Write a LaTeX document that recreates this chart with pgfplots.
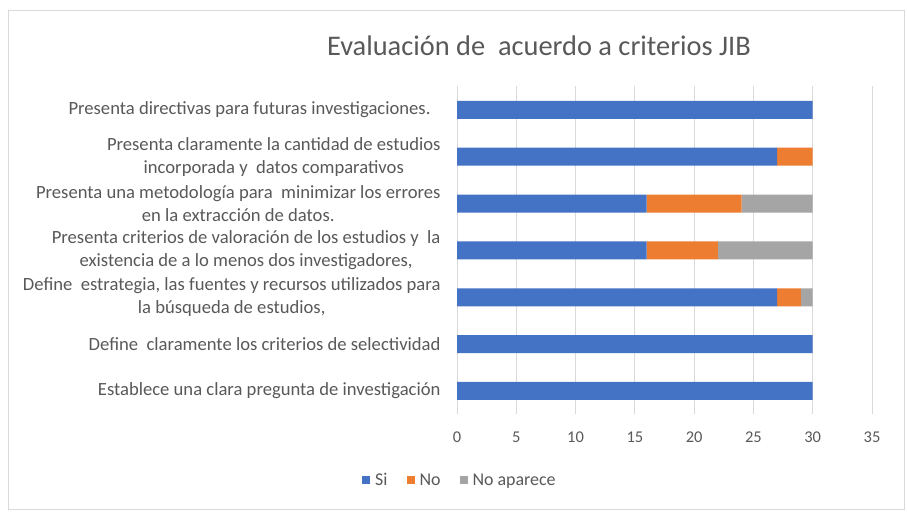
\documentclass[border=0pt]{standalone}
\usepackage{fontspec}
\setmainfont{Carlito}
\usepackage{pgfplots}
\usepackage{pgfplotstable}
\pgfplotsset{compat=1.18}
\definecolor{cSi}{HTML}{4472C4}
\definecolor{cNo}{HTML}{ED7D31}
\definecolor{cNA}{HTML}{A5A5A5}
\definecolor{txt}{HTML}{595959}
\definecolor{grd}{HTML}{D9D9D9}
\pgfplotstableread{
cat Si No NA
0 30 0 0
1 30 0 0
2 27 2 1
3 16 6 8
4 16 8 6
5 27 3 0
6 30 0 0
}\datatab
\begin{document}
\begin{tikzpicture}
\path[use as bounding box] (0bp,0bp) rectangle (907bp,513bp);
\fill[white] (0bp,0bp) rectangle (907bp,513bp);
\draw[grd, line width=1bp] (8.5bp,3bp) rectangle (904.5bp,502bp);
\node[text=txt, font=\fontsize{28.5}{33}\selectfont] at (539bp,467bp) {Evaluación de\ \ acuerdo a criterios JIB};
\begin{axis}[
  at={(457bp,98.6bp)}, anchor=south west,
  scale only axis, width=415bp, height=328bp,
  xbar stacked, bar width=18bp,
  xmin=0, xmax=35, ymin=-0.5, ymax=6.5,
  xtick={0,5,...,35},
  ytick={0,1,...,6},
  yticklabels={
    {Establece una clara pregunta de investigación},
    {Define\ \ claramente los criterios de selectividad},
    {Define\ \ estrategia, las fuentes y recursos utilizados para\\la búsqueda de estudios,},
    {Presenta criterios de valoración de los estudios y\ \ la\\existencia de a lo menos dos investigadores,},
    {Presenta una metodología para\ \ minimizar los errores\\en la extracción de datos.},
    {Presenta claramente la cantidad de estudios\\incorporada y\ \ datos comparativos},
    {Presenta directivas para futuras investigaciones.\hspace{10bp}}
  },
  yticklabel style={align=center, anchor=east, xshift=-13bp, text=txt, font=\fontsize{18.7}{23}\selectfont},
  xticklabel style={text=txt, font=\fontsize{16.5}{19}\selectfont, yshift=-14bp},
  /pgf/number format/assume math mode=true,
  xmajorgrids, major grid style={grd, line width=1bp},
  axis line style={draw=none},
  major tick style={draw=none},
  legend columns=-1,
  legend style={at={(0.007,-0.2)}, anchor=center, draw=none, fill=none,
    font=\fontsize{18}{21}\selectfont, text=txt,
    /tikz/every odd column/.append style={column sep=3bp},
    /tikz/every even column/.append style={column sep=17bp}},
  legend image code/.code={\fill[#1] (0bp,-4bp) rectangle (8bp,4bp);},
]
\addplot[fill=cSi, draw=none] table[x=Si, y=cat] {\datatab};
\addplot[fill=cNo, draw=none] table[x=No, y=cat] {\datatab};
\addplot[fill=cNA, draw=none] table[x=NA, y=cat] {\datatab};
\legend{Si, No, No aparece}
\end{axis}
\end{tikzpicture}
\end{document}
